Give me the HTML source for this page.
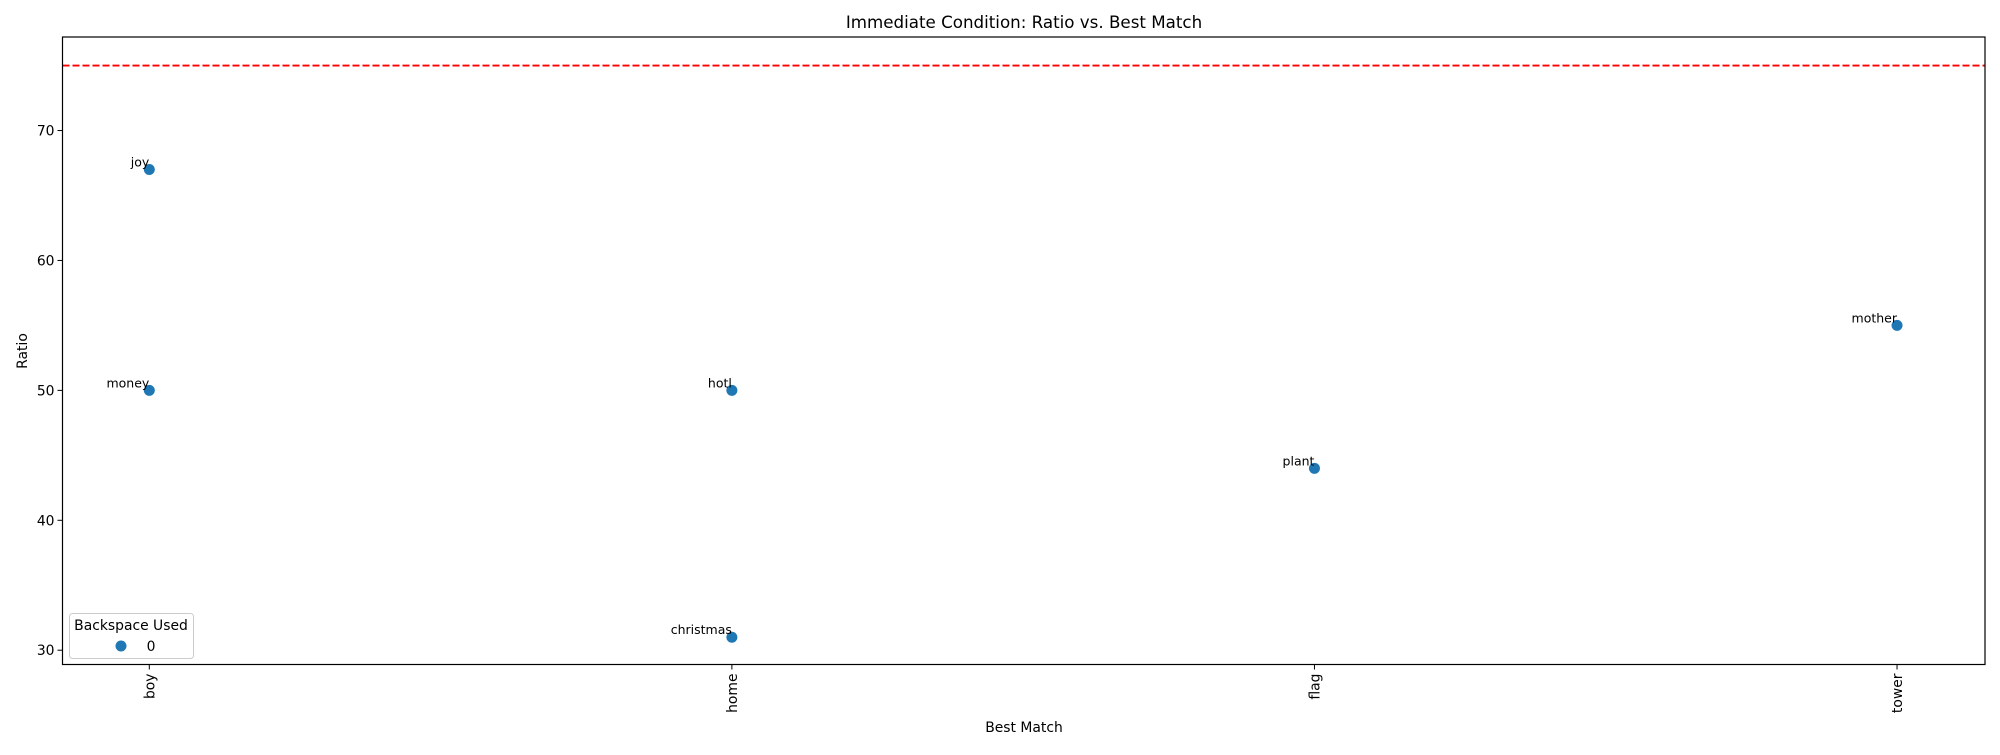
<!DOCTYPE html>
<html><head><meta charset="utf-8"><style>
body{margin:0;background:#fff}
svg text{font-family:"DejaVu Sans","Liberation Sans",sans-serif;fill:#000}
</style></head><body>
<svg id="c" width="2000" height="750" xmlns="http://www.w3.org/2000/svg">
<rect width="2000" height="750" fill="#fff"/>
<text x="1024" y="28" font-size="16.7" text-anchor="middle">Immediate Condition: Ratio vs. Best Match</text>
<text x="1024" y="732" font-size="13.9" text-anchor="middle">Best Match</text>
<text transform="translate(27,351) rotate(-90)" font-size="13.9" text-anchor="middle">Ratio</text>
<g id="g"></g>
</svg>
<script>
const categories=["boy","home","flag","tower"];
const pointCats=["boy","boy","home","home","flag","tower"];
const pointValues=[67,50,50,31,44,55];
const pointLabels=["joy","money","hotl","christmas","plant","mother"];
const yTicks=[30,40,50,60,70];
const refLine=75;
const L=62.5,R=1985,T=37,B=664.5;
const xmin=-0.149,xmax=3.151,ymin=28.9,ymax=77.2;
const X=i=>L+(i-xmin)/(xmax-xmin)*(R-L);
const Y=v=>B-(v-ymin)/(ymax-ymin)*(B-T);
const NS="http://www.w3.org/2000/svg",g=document.getElementById('g');
function mk(t,a,txt){const e=document.createElementNS(NS,t);for(const k in a)e.setAttribute(k,a[k]);if(txt!=null)e.textContent=txt;g.appendChild(e);return e;}
yTicks.forEach(v=>{
 let l=mk('line',{x1:L-5,x2:L,y1:Y(v),y2:Y(v),stroke:'#000','stroke-width':1});
 
 
 let t=mk('text',{x:L-8,y:Y(v)+5,'font-size':13.9,'text-anchor':'end'},v);
 
 
});
categories.forEach((c,i)=>{
 let l=mk('line',{x1:X(i),x2:X(i),y1:B,y2:B+5,stroke:'#000','stroke-width':1});
 
 
 let t=mk('text',{transform:`translate(${X(i)+5},${B+9}) rotate(-90)`,'font-size':13.9,'text-anchor':'end'},c);
 
 
});
let rl=mk('line',{x1:L,x2:R,y1:Y(refLine),y2:Y(refLine),stroke:'#ff0000','stroke-width':1.8,'stroke-dasharray':'7,3'});


pointValues.forEach((v,i)=>{
 const cx=X(categories.indexOf(pointCats[i])),cy=Y(v);
 let p=mk('circle',{cx:cx,cy:cy,r:5.5,fill:'#1f77b4'});
 
 
 let t=mk('text',{x:cx,y:cy-3,'font-size':12.5,'text-anchor':'end',fill:'#000'},pointLabels[i]);
 
 
});
let fr=mk('rect',{x:L,y:T,width:R-L,height:B-T,fill:'none',stroke:'#000','stroke-width':1.2});


let lg=mk('rect',{x:69.5,y:613.5,width:124,height:45,rx:3,fill:'#fff','fill-opacity':0.8,stroke:'#ccc'});


let lt=mk('text',{x:131,y:630,'font-size':13.9,'text-anchor':'middle'},'Backspace Used');


let lm=mk('circle',{cx:121,cy:646,r:5.5,fill:'#1f77b4'});


let le=mk('text',{x:151,y:651,'font-size':13.9,'text-anchor':'middle'},'0');


</script>
</body></html>
